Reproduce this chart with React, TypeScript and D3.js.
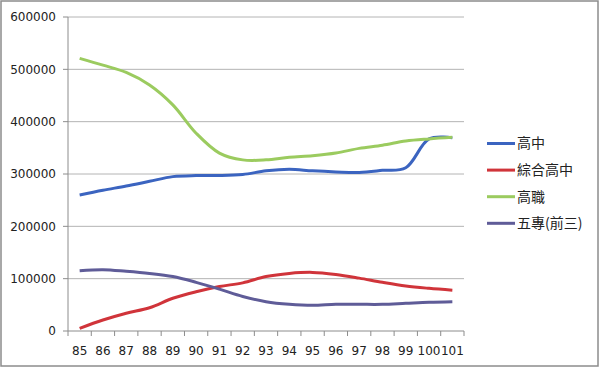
import * as d3 from 'd3'

const years = ['85', '86', '87', '88', '89', '90', '91', '92', '93', '94', '95', '96', '97', '98', '99', '100', '101']
const seniorHigh = [260000, 269000, 277000, 286000, 295000, 297000, 297000, 299000, 306000, 309000, 306000, 304000, 303000, 307000, 312000, 367000, 369000]
const comprehensive = [5000, 21000, 34000, 44500, 62500, 75000, 85000, 92000, 104000, 110000, 112000, 108000, 101000, 93000, 86000, 81500, 78000]
const vocational = [521000, 508000, 494000, 470000, 432000, 378000, 340000, 327000, 327000, 332000, 335000, 340000, 349000, 355000, 363000, 367000, 370000]
const juniorCollege = [115000, 117000, 114000, 110000, 104000, 93000, 80000, 66000, 56000, 51000, 49000, 51000, 51000, 51000, 53000, 55000, 56000]
const seriesNames = ['高中', '綜合高中', '高職', '五專(前三)']
const yTicks = [0, 100000, 200000, 300000, 400000, 500000, 600000]

const colors = ['#3b64c0', '#d0343a', '#9bcb5f', '#5f5c98']

const W = 600
const H = 368
const left = 68
const right = 464
const top = 17
const bottom = 331

const App: React.FC = () => {
  const series = [seniorHigh, comprehensive, vocational, juniorCollege]
  const x = d3.scaleBand<string>().domain(years).range([left, right])
  const y = d3.scaleLinear().domain([0, 600000]).range([bottom, top])
  const line = d3
    .line<number>()
    .x((_d, i) => (x(years[i]) ?? 0) + x.bandwidth() / 2)
    .y((d) => y(d))
    .curve(d3.curveCatmullRom.alpha(0.5))
  const numFont = '"DejaVu Sans", Verdana, sans-serif'
  const cjkFont = '"Noto Sans CJK TC", "Noto Sans", sans-serif'
  // band edges for x tick marks
  const edges = years.map((c) => x(c) ?? 0).concat([right])
  return (
    <svg width={W} height={H} style={{ position: 'absolute', left: 0, top: 0 }}>
      <rect x={0} y={0} width={W} height={H} fill="#fff" />
      <rect x={1} y={1} width={597} height={365} fill="none" stroke="#8c8c8c" strokeWidth={1.5} />
      {yTicks.map((t) => (
        <g key={t}>
          {t > 0 && <line x1={left} x2={right} y1={y(t)} y2={y(t)} stroke="#b4b4b4" strokeWidth={1} />}
          <line x1={left - 5} x2={left} y1={y(t)} y2={y(t)} stroke="#8c8c8c" />
          <text x={left - 12} y={y(t)} dy="0.35em" textAnchor="end" fontFamily={numFont} fontSize={12} fill="#222">
            {t}
          </text>
        </g>
      ))}
      <line x1={left} x2={left} y1={top} y2={bottom} stroke="#8c8c8c" />
      <line x1={left} x2={right} y1={bottom} y2={bottom} stroke="#8c8c8c" />
      {edges.map((e, i) => (
        <line key={i} x1={e} x2={e} y1={bottom} y2={bottom + 5} stroke="#8c8c8c" />
      ))}
      {years.map((c) => (
        <text
          key={c}
          x={(x(c) ?? 0) + x.bandwidth() / 2}
          y={bottom + 24}
          textAnchor="middle"
          fontFamily={numFont}
          fontSize={12}
          fill="#222"
        >
          {c}
        </text>
      ))}
      {series.map((s, i) => (
        <path key={i} d={line(s) ?? ''} fill="none" stroke={colors[i]} strokeWidth={3} strokeLinejoin="round" />
      ))}
      {seriesNames.map((n, i) => {
        const ly = 143.5 + i * 26.6
        return (
          <g key={n}>
            <line x1={487} x2={515} y1={ly} y2={ly} stroke={colors[i]} strokeWidth={3} />
            <text x={517} y={ly} dy="0.35em" fontFamily={cjkFont} fontSize={14} fill="#222">
              {n}
            </text>
          </g>
        )
      })}
    </svg>
  )
}

export default App
